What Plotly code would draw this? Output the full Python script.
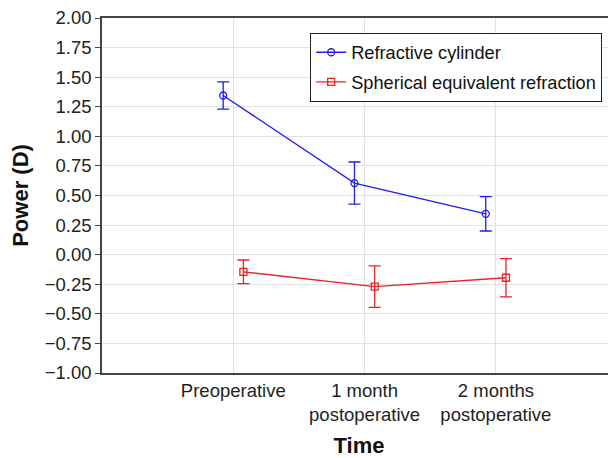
import numpy as np
import plotly.graph_objects as go

categories = ["Preoperative", "1 month<br>postoperative", "2 months<br>postoperative"]
cyl_mean = [1.345, 0.605, 0.345]
cyl_err = [0.115, 0.178, 0.145]
se_mean = [-0.145, -0.27, -0.195]
se_err = [0.10, 0.175, 0.162]
y_ticks = [-1.0, -0.75, -0.5, -0.25, 0.0, 0.25, 0.5, 0.75, 1.0, 1.25, 1.5, 1.75, 2.0]

pos = np.arange(len(categories))
dodge = 0.077

font = "Liberation Sans, Arial, sans-serif"
fig = go.Figure()
fig.add_trace(go.Scatter(
    x=pos - dodge, y=cyl_mean, name="Refractive cylinder",
    mode="lines+markers", legendgroup="a",
    line=dict(color="#1f1fee", width=1.3),
    marker=dict(symbol="circle-open", size=7, color="#1f1fee", line=dict(width=1.3)),
    error_y=dict(type="data", array=cyl_err, visible=True, color="#1f1fee", thickness=1.3, width=6),
))
fig.add_trace(go.Scatter(
    x=pos + dodge, y=se_mean, name="Spherical equivalent refraction",
    mode="lines+markers", legendgroup="b",
    line=dict(color="#ee2222", width=1.3),
    marker=dict(symbol="square-open", size=7, color="#ee2222", line=dict(width=1.3)),
    error_y=dict(type="data", array=se_err, visible=True, color="#ee2222", thickness=1.3, width=6),
))

fig.update_layout(
    width=608, height=450,
    margin=dict(l=94, r=0, t=10, b=85),
    paper_bgcolor="white", plot_bgcolor="white",
    font=dict(family=font, size=18, color="#222"),
    showlegend=True,
    legend=dict(
        x=0.405, y=0.958, xanchor="left", yanchor="top",
        bordercolor="#222", borderwidth=1, bgcolor="white",
        font=dict(size=18.2, color="#111"), traceorder="grouped",
        tracegroupgap=3,
    ),
    xaxis=dict(
        range=[-1, 2.915], tickvals=list(pos), ticktext=categories,
        showgrid=True, gridcolor="#e2e2e2", gridwidth=1.2,
        showline=True, linecolor="#444", linewidth=1.5, mirror=True,
        ticks="", zeroline=False, automargin=False,
        tickfont=dict(size=18.5, color="#222"),
        title=dict(text="<b>Time</b>", font=dict(size=22, color="#111"), standoff=17),
    ),
    yaxis=dict(
        range=[-1, 2], tickvals=y_ticks, tickformat=".2f",
        showgrid=True, gridcolor="#e2e2e2", gridwidth=1.2,
        showline=True, linecolor="#444", linewidth=1.5,
        ticks="outside", ticklen=5, tickcolor="#444", zeroline=False,
        automargin=False, ticklabeloverflow="allow",
        tickfont=dict(size=18.5, color="#222"),
        title=dict(text="<b>Power (D)</b>", font=dict(size=22, color="#111"), standoff=14),
    ),
)
fig.write_html("out.html")
